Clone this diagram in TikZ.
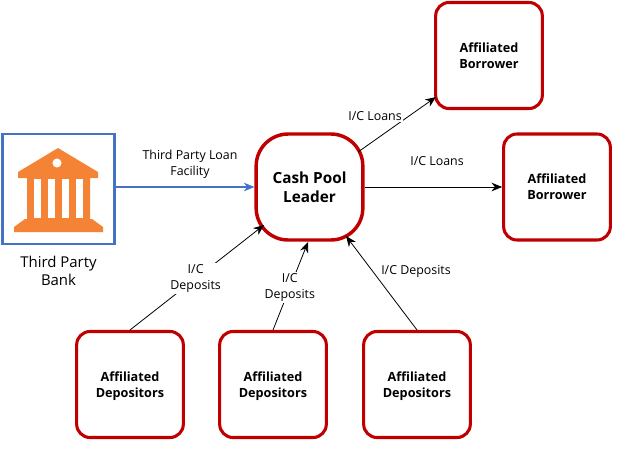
\documentclass[tikz,border=0pt]{standalone}
\usepackage{fontspec}
\setmainfont{Open Sans}
\usetikzlibrary{arrows.meta}
\definecolor{boxred}{HTML}{C00000}
\definecolor{bankblue}{HTML}{4472C4}
\definecolor{bankorange}{HTML}{F58335}
\tikzset{
    party/.style={draw=boxred, line width=2.3pt, rounded corners=10pt, minimum width=80pt, minimum height=79.5pt, inner sep=0pt, align=center, font=\fontsize{9.5}{12}\selectfont\bfseries},
    tag/.style={inner sep=1pt, align=center, font=\fontsize{9.3}{12}\selectfont},
    flow/.style={->, line width=.6pt}
}
\begin{document}
\begin{tikzpicture}[x=.75pt, y=-.75pt, >={Stealth[length=8pt, width=6.5pt]}]
    \useasboundingbox(0, 0)rectangle(620, 454);
    % boxes
    \node[draw=bankblue, line width=1.7pt, minimum width=84pt, minimum height=82pt, inner sep=0pt](bank)at(58.5, 189){};
    \node[party, rounded corners=24pt, line width=2.6pt, font=\fontsize{11.5}{14.5}\selectfont\bfseries](leader)at(309.5, 187){Cash Pool\\Leader};
    \node[party](borrowerA)at(489, 55.5){Affiliated\\Borrower};
    \node[party](borrowerB)at(557, 187){Affiliated\\Borrower};
    \node[party](depositorA)at(130, 384.5){Affiliated\\\smash{Depositors}};
    \node[party](depositorB)at(273, 384.5){Affiliated\\\smash{Depositors}};
    \node[party](depositorC)at(417, 384.5){Affiliated\\\smash{Depositors}};
    \node[font=\fontsize{11.2}{13.5}\selectfont, align=center](banktext)at(58.5, 271){Third Party\\Bank};
    % bank icon
    \fill[bankorange](58, 148)--(98, 172)--(98, 178)--(90, 178)--(90, 219)--(92, 219)--(103, 227)--(103, 232)--(14, 232)--(14, 227)--(25, 219)--(27, 219)--(27, 178)--(18, 178)--(18, 172)--cycle;
    \foreach \gap in {34, 48, 62, 76}
        \fill[white](\gap, 179)rectangle(\gap+7, 218);
    \fill[white](57, 163)circle[radius=3.4pt];
    % corners of the leader where lines land
    \coordinate(leaderNE)at(358, 152);
    \coordinate(leaderSW)at(264, 225);
    \coordinate(leaderS)at(308, 242);
    \coordinate(leaderSE)at(346, 236);
    \coordinate(borrowerSW)at(436, 97);
    % connectors
    \draw[flow, bankblue, line width=.8pt](bank.east|-leader)--(leader.west);
    \draw[flow](leader.east)--(borrowerB.west);
    \draw[flow](leaderNE)--(borrowerSW);
    \draw[flow](depositorA.north)--(leaderSW)node[pos=.49, tag, fill=white]{I/C\\Deposits};
    \draw[flow](depositorB.north)--(leaderS)node[pos=.48, tag, fill=white]{I/C\\Deposits};
    \draw[flow](depositorC.north)--(leaderSE);
    % labels
    \node[tag, fill=white](loansup)at(375, 116){I/C Loans};
    \node[tag](loantext)at(190, 164){Third Party Loan\\Facility};
    \node[tag](loansright)at(437, 161){I/C Loans};
    \node[tag](depositright)at(416, 271){I/C Deposits};
\end{tikzpicture}
\end{document}
